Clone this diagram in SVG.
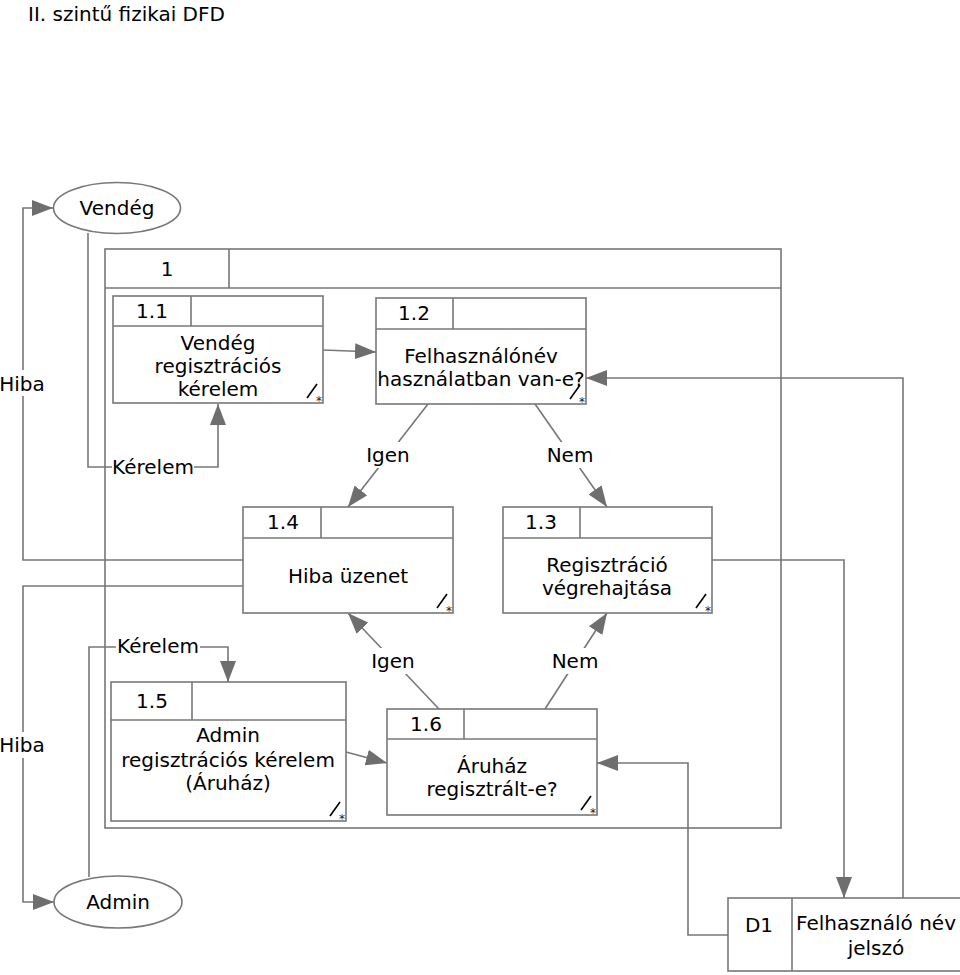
<svg xmlns="http://www.w3.org/2000/svg" xmlns:xlink="http://www.w3.org/1999/xlink" width="960" height="975" viewBox="0 0 960 975">
<style>
  text { font-family: "DejaVu Sans", Verdana, sans-serif; font-size: 20px; fill: #000; }
  .c { text-anchor: middle; }
  .box { fill: #fff; stroke: #777; stroke-width: 1.6; }
  .ln { fill: none; stroke: #777; stroke-width: 1.6; }
  .conn { fill: none; stroke: #777; stroke-width: 1.6; }
  .arr { marker-end: url(#ah); }
  .bg { fill: #fff; stroke: none; }
  .ast { font-size: 12px; fill: #222; }
</style>
<defs>
  <marker id="ah" markerUnits="userSpaceOnUse" markerWidth="22" markerHeight="16" refX="21" refY="8" orient="auto">
    <path d="M0,0 L21,8 L0,16 Z" fill="#6e6e6e"/>
  </marker>
  <g id="mark">
    <line x1="-16" y1="-5" x2="-6" y2="-19" stroke="#000" stroke-width="1.6"/>
    <text x="-4" y="2" class="ast c">*</text>
  </g>
</defs>
<rect width="960" height="975" fill="#fff"/>
<text x="28" y="21">II. szintű fizikai DFD</text>

<g id="connectors">
  <path class="conn arr" d="M88,233 V467 H218 V404"/>
  <path class="conn arr" d="M243,560 H23 V208 H53"/>
  <path class="conn arr" d="M243,586 H23 V902 H54"/>
  <path class="conn arr" d="M323,350 L376,352"/>
  <path class="conn arr" d="M903,898 V378 H586"/>
  <path class="conn arr" d="M428,404 L348,507"/>
  <path class="conn arr" d="M535,404 L607,507"/>
  <path class="conn arr" d="M712,560 H844 V898"/>
  <path class="conn arr" d="M439,709 L348,613"/>
  <path class="conn arr" d="M545,709 L607,613"/>
  <path class="conn arr" d="M89,877 V647 H228 V682"/>
  <path class="conn arr" d="M346,752 L387,763"/>
  <path class="conn arr" d="M729,935 H688 V763 H597"/>

  <rect class="bg" x="0" y="370" width="46" height="26"/>
  <text x="22" y="391" class="c">Hiba</text>
  <rect class="bg" x="0" y="732" width="46" height="26"/>
  <text x="22" y="752" class="c">Hiba</text>
  <rect class="bg" x="112" y="456" width="82" height="22"/>
  <text x="153" y="474" class="c">Kérelem</text>
  <rect class="bg" x="116" y="636" width="84" height="22"/>
  <text x="158" y="653" class="c">Kérelem</text>
  <rect class="bg" x="362" y="442" width="52" height="26"/>
  <text x="388" y="462" class="c">Igen</text>
  <rect class="bg" x="544" y="442" width="52" height="26"/>
  <text x="570" y="462" class="c">Nem</text>
  <rect class="bg" x="367" y="648" width="52" height="26"/>
  <text x="393" y="668" class="c">Igen</text>
  <rect class="bg" x="549" y="648" width="52" height="26"/>
  <text x="575" y="668" class="c">Nem</text>
</g>

<g id="vendeg">
  <ellipse cx="117" cy="208" rx="63.5" ry="25.5" class="box"/>
  <text x="117" y="215" class="c">Vendég</text>
</g>

<g id="admin">
  <ellipse cx="118" cy="902" rx="64" ry="26" class="box"/>
  <text x="118" y="909" class="c">Admin</text>
</g>

<g id="p1">
  <rect x="105" y="249" width="676" height="579" class="ln"/>
  <line x1="105" y1="288" x2="781" y2="288" class="ln"/>
  <line x1="229" y1="249" x2="229" y2="288" class="ln"/>
  <text x="167" y="276" class="c">1</text>
</g>

<g id="p1_1">
  <rect x="113" y="296" width="210" height="107" class="box"/>
  <line x1="113" y1="326" x2="323" y2="326" class="ln"/>
  <line x1="191" y1="296" x2="191" y2="326" class="ln"/>
  <text x="152" y="318" class="c">1.1</text>
  <text x="218" y="350" class="c">Vendég</text>
  <text x="218" y="373" class="c">regisztrációs</text>
  <text x="218" y="396" class="c">kérelem</text>
  <use xlink:href="#mark" x="323" y="403"/>
</g>

<g id="p1_2">
  <rect x="376" y="298" width="210" height="106" class="box"/>
  <line x1="376" y1="329" x2="586" y2="329" class="ln"/>
  <line x1="453" y1="298" x2="453" y2="329" class="ln"/>
  <text x="414" y="320" class="c">1.2</text>
  <text x="481" y="363" class="c">Felhasználónév</text>
  <text x="481" y="386" class="c">használatban van-e?</text>
  <use xlink:href="#mark" x="586" y="404"/>
</g>

<g id="p1_4">
  <rect x="243" y="507" width="210" height="106" class="box"/>
  <line x1="243" y1="538" x2="453" y2="538" class="ln"/>
  <line x1="321" y1="507" x2="321" y2="538" class="ln"/>
  <text x="283" y="529" class="c">1.4</text>
  <text x="348" y="583" class="c">Hiba üzenet</text>
  <use xlink:href="#mark" x="453" y="613"/>
</g>

<g id="p1_3">
  <rect x="503" y="507" width="209" height="106" class="box"/>
  <line x1="503" y1="538" x2="712" y2="538" class="ln"/>
  <line x1="580" y1="507" x2="580" y2="538" class="ln"/>
  <text x="541" y="529" class="c">1.3</text>
  <text x="607" y="572" class="c">Regisztráció</text>
  <text x="607" y="595" class="c">végrehajtása</text>
  <use xlink:href="#mark" x="712" y="613"/>
</g>

<g id="p1_5">
  <rect x="111" y="682" width="235" height="139" class="box"/>
  <line x1="111" y1="720" x2="346" y2="720" class="ln"/>
  <line x1="192" y1="682" x2="192" y2="720" class="ln"/>
  <text x="152" y="708" class="c">1.5</text>
  <text x="228" y="742" class="c">Admin</text>
  <text x="228" y="767" class="c">regisztrációs kérelem</text>
  <text x="228" y="790" class="c">(Áruház)</text>
  <use xlink:href="#mark" x="346" y="821"/>
</g>

<g id="p1_6">
  <rect x="387" y="709" width="210" height="106" class="box"/>
  <line x1="387" y1="739" x2="597" y2="739" class="ln"/>
  <line x1="464" y1="709" x2="464" y2="739" class="ln"/>
  <text x="426" y="731" class="c">1.6</text>
  <text x="492" y="773" class="c">Áruház</text>
  <text x="492" y="796" class="c">regisztrált-e?</text>
  <use xlink:href="#mark" x="597" y="815"/>
</g>

<g id="d1">
  <rect x="728" y="898" width="240" height="73" class="box"/>
  <line x1="792" y1="898" x2="792" y2="971" class="ln"/>
  <text x="759" y="932" class="c">D1</text>
  <text x="876" y="930" class="c">Felhasználó név</text>
  <text x="876" y="955" class="c">jelszó</text>
</g>
</svg>
